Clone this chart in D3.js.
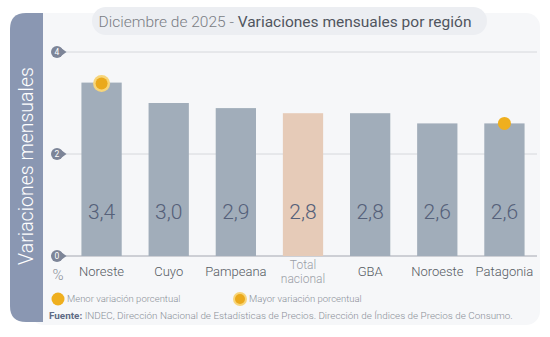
<!DOCTYPE html>
<html lang="es">
<head>
    <meta charset="UTF-8">
    <title>Variaciones mensuales por región</title>
    <script src="https://cdnjs.cloudflare.com/ajax/libs/d3/7.8.5/d3.min.js"></script>
    <style>
        body { margin: 0; background: #fff; }
        svg { display: block; font-family: Roboto, "Liberation Sans", sans-serif; font-weight: 300; }
    </style>
</head>
<body>
<svg id="chart" width="550" height="337"></svg>
<script>
    // data
    const regions = ["Noreste", "Cuyo", "Pampeana", "Total nacional", "GBA", "Noroeste", "Patagonia"];
    const values = [3.4, 3.0, 2.9, 2.8, 2.8, 2.6, 2.6];
    const yTicks = [0, 2, 4];
    const highest = "Noreste";
    const lowest = "Patagonia";

    const svg = d3.select("#chart");
    const fmt = v => d3.format(".1f")(v).replace(".", ",");

    // card + side band
    svg.append("rect").attr("x", 30).attr("y", 13).attr("width", 510).attr("height", 312)
        .attr("rx", 14).attr("fill", "#f6f7f9");
    svg.append("path").attr("fill", "#8a97b2")
        .attr("d", "M43,13 L26,13 Q10,13 10,29 L10,306 Q10,322 26,322 L43,322 Z");
    svg.append("text")
        .attr("transform", "translate(33,166) rotate(-90)")
        .attr("text-anchor", "middle")
        .attr("fill", "#fff").attr("font-size", 19.5)
        .text("Variaciones mensuales");

    // title pill
    svg.append("rect").attr("x", 92).attr("y", 7).attr("width", 395).attr("height", 28)
        .attr("rx", 14).attr("fill", "#eceef2");
    const title = svg.append("text").attr("x", 285).attr("y", 27)
        .attr("text-anchor", "middle").attr("font-size", 15.5);
    title.append("tspan").attr("fill", "#7a7d84").text("Diciembre de 2025 - ");
    title.append("tspan").attr("fill", "#50555e").attr("font-weight", 400).text("Variaciones mensuales por región");

    const x = d3.scaleBand().domain(regions).range([68, 538]).paddingInner(0.4).paddingOuter(0.2);
    const y = d3.scaleLinear().domain([0, 4]).range([256, 52]);

    // gridlines
    svg.append("g").selectAll("line").data(yTicks).join("line")
        .attr("x1", 62).attr("x2", 537)
        .attr("y1", d => y(d)).attr("y2", d => y(d))
        .attr("stroke", d => d === 0 ? "#bfc2c8" : "#d6d8dc")
        .attr("stroke-width", d => d === 0 ? 1.5 : 1);

    // tick badges
    const tk = svg.append("g").selectAll("g").data(yTicks).join("g")
        .attr("transform", d => `translate(57,${y(d)})`);
    tk.append("path").attr("fill", "#7d8598").attr("d", "M3,-4.8 L9.5,0 L3,4.8 Z");
    tk.append("circle").attr("r", 6).attr("fill", "#7d8598");
    tk.append("text").attr("y", 3).attr("text-anchor", "middle")
        .attr("font-size", 8.5).attr("font-weight", 400).attr("fill", "#fff").text(d => d);

    svg.append("text").attr("x", 58).attr("y", 280).attr("text-anchor", "middle")
        .attr("font-size", 15).attr("fill", "#8a8f98").text("%");

    // bars
    svg.append("g").selectAll("rect").data(regions).join("rect")
        .attr("x", d => x(d)).attr("width", x.bandwidth())
        .attr("y", (d, i) => y(values[i]))
        .attr("height", (d, i) => y(0) - y(values[i]))
        .attr("fill", d => d === "Total nacional" ? "#e6cbb8" : "#a1adba");

    // value labels
    svg.append("g").selectAll("text").data(regions).join("text")
        .attr("x", d => x(d) + x.bandwidth() / 2).attr("y", 219)
        .attr("text-anchor", "middle").attr("font-size", 21)
        .attr("fill", "#556079")
        .text((d, i) => fmt(values[i]));

    // category labels
    const cats = svg.append("g").selectAll("text").data(regions).join("text")
        .attr("text-anchor", "middle")
        .attr("font-size", d => d === "Total nacional" ? 12 : 13)
        .attr("fill", d => d === "Total nacional" ? "#9a9ea6" : "#555a62");
    cats.each(function(d) {
        const t = d3.select(this);
        const cx = x(d) + x.bandwidth() / 2;
        if (d === "Total nacional") {
            t.append("tspan").attr("x", cx).attr("y", 269).text("Total");
            t.append("tspan").attr("x", cx).attr("y", 283).text("nacional");
        } else {
            t.attr("x", cx).attr("y", 276).text(d);
        }
    });

    // markers for highest and lowest
    const hiIdx = regions.indexOf(highest), loIdx = regions.indexOf(lowest);
    const hx = x(highest) + x.bandwidth() / 2, hy = y(values[hiIdx]) + 1;
    svg.append("circle").attr("cx", hx).attr("cy", hy).attr("r", 8.5).attr("fill", "#f7d57a");
    svg.append("circle").attr("cx", hx).attr("cy", hy).attr("r", 6).attr("fill", "#eaa91c");
    svg.append("circle").attr("cx", x(lowest) + x.bandwidth() / 2).attr("cy", y(values[loIdx]))
        .attr("r", 6.5).attr("fill", "#efaf1e");

    // legend
    svg.append("circle").attr("cx", 58).attr("cy", 299).attr("r", 6.5).attr("fill", "#efaf1e");
    svg.append("text").attr("x", 67).attr("y", 302).attr("font-size", 9.5).attr("fill", "#8a8f98")
        .text("Menor variación porcentual");
    svg.append("circle").attr("cx", 240).attr("cy", 299).attr("r", 7).attr("fill", "#f7d57a");
    svg.append("circle").attr("cx", 240).attr("cy", 299).attr("r", 5).attr("fill", "#eaa91c");
    svg.append("text").attr("x", 249).attr("y", 302).attr("font-size", 9.5).attr("fill", "#8a8f98")
        .text("Mayor variación porcentual");

    const src = svg.append("text").attr("x", 49).attr("y", 319).attr("font-size", 9.9);
    src.append("tspan").attr("font-weight", "bold").attr("fill", "#5f6b85").text("Fuente: ");
    src.append("tspan").attr("fill", "#8a8f98")
        .text("INDEC, Dirección Nacional de Estadísticas de Precios. Dirección de Índices de Precios de Consumo.");
</script>
</body>
</html>
